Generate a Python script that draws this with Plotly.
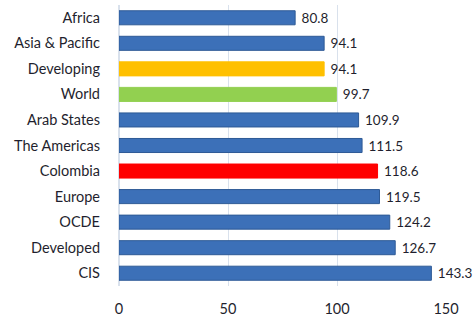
import plotly.graph_objects as go

regions = ["Africa", "Asia & Pacific", "Developing", "World", "Arab States",
           "The Americas", "Colombia", "Europe", "OCDE", "Developed", "CIS"]
values = [80.8, 94.1, 94.1, 99.7, 109.9, 111.5, 118.6, 119.5, 124.2, 126.7, 143.3]
highlight = {"Developing": "#FFC000", "World": "#92D050", "Colombia": "#FF0000"}
base_color = "#3C70B8"
x_ticks = [0, 50, 100, 150]

colors = [highlight.get(r, base_color) for r in regions]
line_colors = [("#2E5A96" if r not in highlight else c) for r, c in zip(regions, colors)]

fig = go.Figure()
fig.add_trace(go.Bar(
    y=regions,
    x=values,
    orientation="h",
    marker=dict(color=colors, line=dict(color=line_colors, width=1)),
    width=0.55,
    text=[f" {v:.1f}" for v in values],
    textposition="outside",
    constraintext="none",
    textfont=dict(family="Lato", size=13.5, color="#1F1F2E"),
    cliponaxis=False,
    hoverinfo="skip",
))

fig.update_layout(
    width=473,
    height=322,
    margin=dict(l=119, r=27, t=5, b=31),
    paper_bgcolor="white",
    plot_bgcolor="white",
    showlegend=False,
    font=dict(family="Lato", size=14, color="#1F1F2E"),
)
fig.update_xaxes(
    range=[0, 150],
    tickvals=x_ticks,
    showgrid=True,
    gridcolor="#D9E1EC",
    gridwidth=1,
    zeroline=True,
    zerolinecolor="#D9E1EC",
    showline=False,
    ticks="",
    ticklabelstandoff=12,
    tickfont=dict(family="Lato", size=14.5, color="#1F1F2E"),
)
fig.update_yaxes(
    autorange="reversed",
    showgrid=False,
    ticks="",
    ticklabelstandoff=18,
    tickfont=dict(family="Lato", size=14.5, color="#1F1F2E"),
)

fig.write_html("out.html")
